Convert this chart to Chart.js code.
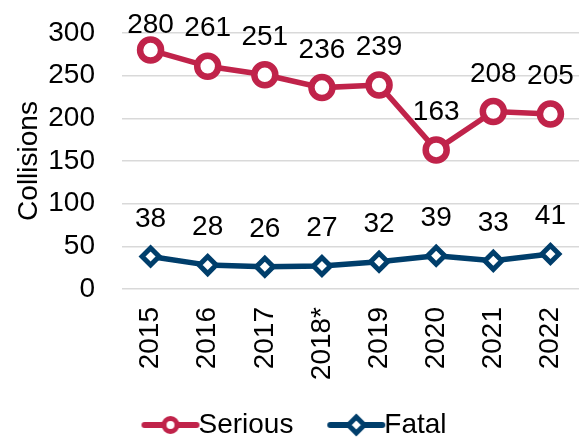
<!DOCTYPE html>
<html>
<head>
<meta charset="utf-8">
<script src="https://cdn.jsdelivr.net/npm/chart.js@4"></script>
<style>
  html, body { margin: 0; padding: 0; background: #fff; }
  #wrap { width: 579px; height: 437px; }
</style>
</head>
<body>
<div id="wrap"><canvas id="chart"></canvas></div>
<script>
// chart data
const years = ['2015', '2016', '2017', '2018*', '2019', '2020', '2021', '2022'];
const serious = [280, 261, 251, 236, 239, 163, 208, 205];
const fatal = [38, 28, 26, 27, 32, 39, 33, 41];
const yTicks = [0, 50, 100, 150, 200, 250, 300];

const RED = '#C0234A';
const NAVY = '#003E6B';
const FONT = 'Arial, "Liberation Sans", sans-serif';
const FS = 28;

// little canvas used as a legend symbol: line with the marker in the middle
// (symbol sits a bit right of the image centre so it hugs the text)
function legendSymbol(color, shape) {
  const c = document.createElement('canvas');
  c.width = 68; c.height = 26;
  const g = c.getContext('2d');
  const cx = 38, cy = 13;
  g.strokeStyle = color;
  g.lineWidth = 6;
  g.lineCap = 'round';
  g.beginPath(); g.moveTo(cx - 26, cy); g.lineTo(cx + 26, cy); g.stroke();
  g.fillStyle = '#fff';
  g.lineWidth = 5;
  g.beginPath();
  if (shape === 'circle') {
    g.arc(cx, cy, 6.5, 0, Math.PI * 2);
  } else {
    g.moveTo(cx, cy - 8); g.lineTo(cx + 8, cy); g.lineTo(cx, cy + 8); g.lineTo(cx - 8, cy); g.closePath();
  }
  g.fill(); g.stroke();
  return c;
}

// draws the value above every point (kept inside the top of the picture)
const valueLabels = {
  id: 'valueLabels',
  afterLayout(chart) {
    // nudge the legend right and down, like the original
    chart.legend.left += 6;
    chart.legend.right += 6;
    chart.legend.top += 12;
    chart.legend.bottom += 12;
  },
  afterDatasetsDraw(chart) {
    const ctx = chart.ctx;
    ctx.save();
    ctx.font = FS + 'px ' + FONT;
    ctx.fillStyle = '#000';
    ctx.textAlign = 'center';
    ctx.textBaseline = 'alphabetic';
    chart.data.datasets.forEach((ds, i) => {
      chart.getDatasetMeta(i).data.forEach((pt, j) => {
        ctx.fillText(ds.data[j], pt.x, Math.max(pt.y - 30, 33));
      });
    });
    ctx.restore();
  }
};

const ctx = document.getElementById('chart').getContext('2d');
const collisionsChart = new Chart(ctx, {
  type: 'line',
  data: {
    labels: years,
    datasets: [{
      label: 'Serious',
      data: serious,
      borderColor: RED,
      backgroundColor: '#fff',
      borderWidth: 5.5,
      pointStyle: 'circle',
      pointRadius: 10.5,
      pointBorderWidth: 6.5,
      pointBorderColor: RED,
      pointBackgroundColor: '#fff',
      tension: 0
    }, {
      label: 'Fatal',
      data: fatal,
      borderColor: NAVY,
      backgroundColor: '#fff',
      borderWidth: 5.5,
      pointStyle: 'rectRot',
      pointRadius: 8.5,
      pointBorderWidth: 5,
      pointBorderColor: NAVY,
      pointBackgroundColor: '#fff',
      tension: 0
    }]
  },
  options: {
    responsive: true,
    maintainAspectRatio: false,
    animation: false,
    layout: { autoPadding: false, padding: { top: 33, right: 0, left: 4, bottom: 0 } },
    plugins: {
      tooltip: { enabled: false },
      legend: {
        position: 'bottom',
        labels: {
          usePointStyle: true,
          pointStyleWidth: 36,
          padding: 2,
          color: '#000',
          font: { size: FS, family: FONT },
          generateLabels(chart) {
            // trailing spaces give the gap between the two entries
            return [
              { text: 'Serious     ', pointStyle: legendSymbol(RED, 'circle'), datasetIndex: 0, fontColor: '#000', lineWidth: 0 },
              { text: 'Fatal', pointStyle: legendSymbol(NAVY, 'diamond'), datasetIndex: 1, fontColor: '#000', lineWidth: 0 }
            ];
          }
        }
      }
    },
    scales: {
      x: {
        offset: true,
        grid: { display: false },
        border: { display: false },
        afterFit(axis) {
          axis.height = 108;
          axis.paddingLeft = 0;
          axis.paddingRight = 0;
        },
        ticks: {
          color: '#000',
          font: { size: FS, family: FONT },
          minRotation: 90,
          maxRotation: 90,
          padding: 10
        }
      },
      y: {
        min: 0,
        max: 300,
        afterBuildTicks(axis) { axis.ticks = yTicks.map(v => ({ value: v })); },
        afterFit(axis) {
          axis.width = 118;
          axis.paddingTop = 0;
          axis.paddingBottom = 0;
        },
        grid: { color: '#d9d9d9', lineWidth: 1.5, drawTicks: false },
        border: { display: false },
        title: {
          display: true,
          text: 'Collisions',
          color: '#000',
          font: { size: FS, family: FONT },
          padding: { top: 8, bottom: 4 }
        },
        ticks: {
          autoSkip: false,
          color: '#000',
          font: { size: FS, family: FONT },
          padding: 27
        }
      }
    }
  },
  plugins: [valueLabels]
});
</script>
</body>
</html>
